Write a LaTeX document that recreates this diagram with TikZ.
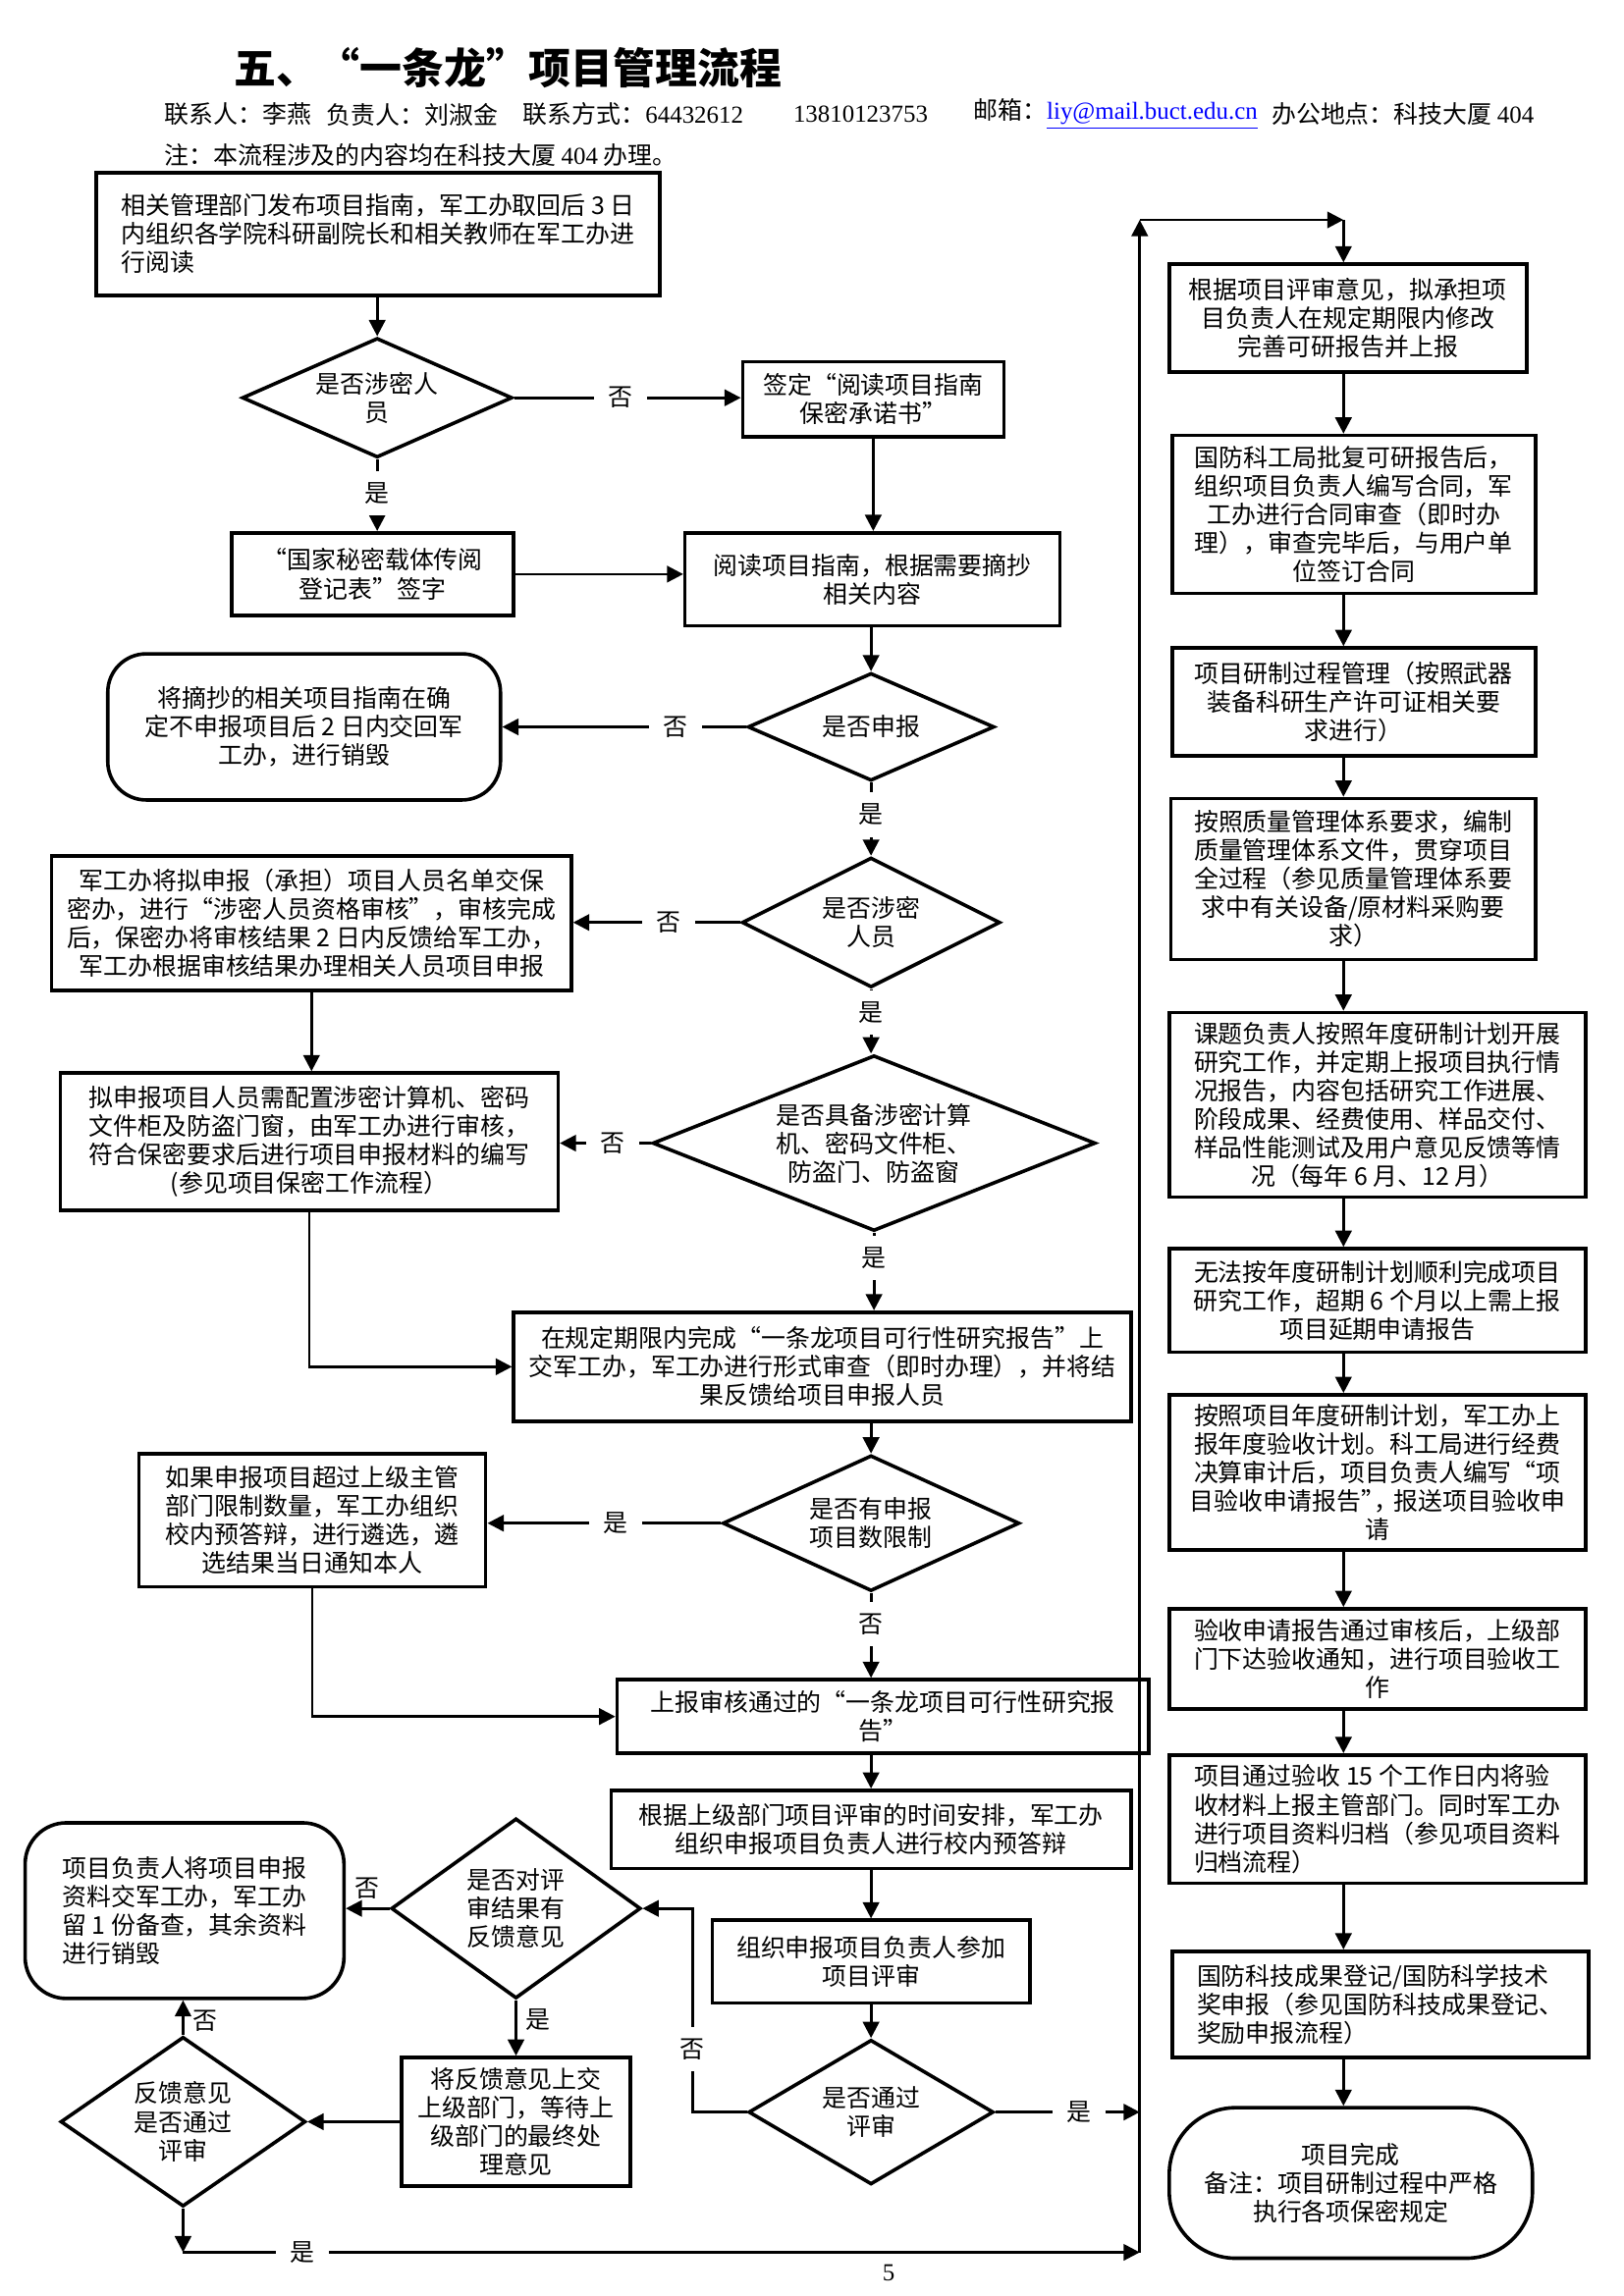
\documentclass[tikz,border=0pt]{standalone}
\usepackage{fontspec}
\setmainfont{Noto Sans CJK SC}
\newfontfamily\latfont{Liberation Serif}
\usetikzlibrary{shapes.geometric,arrows.meta}
\newcommand\pxu{0.19091mm}
\newcommand\lat[1]{{\latfont #1}}
\begin{document}
\begin{tikzpicture}[x=\pxu,y=-\pxu,
  font=\fontsize{9pt}{10.5pt}\selectfont,
  >={Triangle[length=2.1mm,width=2.1mm]},
  bx/.style 2 args={draw,line width=1.3pt,rectangle,minimum width=#1*\pxu,minimum height=#2*\pxu,inner sep=0pt,align=center},
  rbx/.style n args={3}{bx={#1}{#2},rounded corners=#3*\pxu},
  dia/.style n args={3}{diamond,draw,line width=1.3pt,minimum width=#1*\pxu,minimum height=#2*\pxu,aspect=#3,inner sep=0pt,align=center},
  lab/.style={fill=white,inner sep=0pt,minimum width=36*\pxu,minimum height=30*\pxu},
  arr/.style={->,line width=1pt},
  hd/.style={anchor=west,inner sep=0pt}]
\useasboundingbox (0,0) rectangle (1100,1555.6);

% header
\node[hd,font=\fontsize{15.5pt}{18pt}\selectfont\bfseries] (T) at (158,46) {五、“一条龙”项目管理流程};
\node[hd] (h1) at (111,77.5) {联系人：李燕};
\node[hd] (h2) at (221,77.5) {负责人：刘淑金};
\node[hd] (h3) at (354,77.5) {联系方式：\lat{64432612}};
\node[hd] (h4) at (537,77.5) {\lat{13810123753}};
\node[hd] (h5) at (659,77.5) {邮箱：{\latfont\color{blue}\underline{liy@mail.buct.edu.cn}}};
\node[hd] (h6) at (861,77.5) {办公地点：科技大厦 \lat{404}};
\node[hd] (h7) at (111,105) {注：本流程涉及的内容均在科技大厦 \lat{404} 办理。};
\node[inner sep=0pt] (pg) at (602,1540) {\lat{5}};

% left / middle column
\node[bx={382}{83},align=left] (A) at (256,158.5) {相关管理部门发布项目指南，军工办取回后 3 日\\内组织各学院科研副院长和相关教师在军工办进\\行阅读};
\node[dia={183}{81}{2.25}] (D1) at (255.5,269.5) {是否涉密人\\员};
\node[bx={177}{51}] (B) at (591.5,270.5) {签定“阅读项目指南\\保密承诺书”};
\node[bx={191}{56}] (C) at (252.5,389) {“国家秘密载体传阅\\登记表”签字};
\node[bx={254}{63}] (E) at (591,392.5) {阅读项目指南，根据需要摘抄\\相关内容};
\node[dia={167}{73}{2.3}] (D2) at (590,492.5) {是否申报};
\node[rbx={266}{99}{26}] (F) at (206,492.5) {将摘抄的相关项目指南在确\\定不申报项目后 2 日内交回军\\工办，进行销毁};
\node[dia={175}{88}{2.0}] (D3) at (590,625) {是否涉密\\人员};
\node[bx={352}{91}] (G) at (211,625.5) {军工办将拟申报（承担）项目人员名单交保\\密办，进行“涉密人员资格审核”，审核完成\\后，保密办将审核结果 2 日内反馈给军工办，\\军工办根据审核结果办理相关人员项目申报};
\node[dia={300}{119}{2.5}] (D4) at (592,774.5) {是否具备涉密计算\\机、密码文件柜、\\防盗门、防盗窗};
\node[bx={337}{93}] (H) at (209.5,773.5) {拟申报项目人员需配置涉密计算机、密码\\文件柜及防盗门窗，由军工办进行审核，\\符合保密要求后进行项目申报材料的编写\\(参见项目保密工作流程）};
\node[bx={418}{74}] (I) at (557,926) {在规定期限内完成“一条龙项目可行性研究报告”上\\交军工办，军工办进行形式审查（即时办理），并将结\\果反馈给项目申报人员};
\node[dia={201}{92}{2.2}] (D5) at (590,1032) {是否有申报\\项目数限制};
\node[bx={235}{90}] (J) at (211.5,1030) {如果申报项目超过上级主管\\部门限制数量，军工办组织\\校内预答辩，进行遴选，遴\\选结果当日通知本人};
\node[bx={360}{50}] (K) at (598,1163) {上报审核通过的“一条龙项目可行性研究报\\告”};
\node[bx={352}{53}] (L) at (590,1239.5) {根据上级部门项目评审的时间安排，军工办\\组织申报项目负责人进行校内预答辩};
\node[bx={215}{56}] (M) at (590,1329) {组织申报项目负责人参加\\项目评审};
\node[dia={166}{98}{1.7}] (D6) at (590,1431) {是否通过\\评审};
\node[dia={169}{122}{1.4}] (D7) at (349.5,1293) {是否对评\\审结果有\\反馈意见};
\node[rbx={216}{119}{28},align=left] (N) at (125,1294.5) {项目负责人将项目申报\\资料交军工办，军工办\\留 1 份备查，其余资料\\进行销毁};
\node[bx={155}{87}] (O) at (349.5,1437.5) {将反馈意见上交\\上级部门，等待上\\级部门的最终处\\理意见};
\node[dia={166}{115}{1.45}] (D8) at (124,1437.5) {反馈意见\\是否通过\\评审};

% right column
\node[bx={242}{73}] (R1) at (913,215.5) {根据项目评审意见，拟承担项\\目负责人在规定期限内修改\\完善可研报告并上报};
\node[bx={246}{107}] (R2) at (917,348.5) {国防科工局批复可研报告后，\\组织项目负责人编写合同，军\\工办进行合同审查（即时办\\理），审查完毕后，与用户单\\位签订合同};
\node[bx={246}{73}] (R3) at (917,475.5) {项目研制过程管理（按照武器\\装备科研生产许可证相关要\\求进行）};
\node[bx={247}{109}] (R4) at (916.5,595.5) {按照质量管理体系要求，编制\\质量管理体系文件，贯穿项目\\全过程（参见质量管理体系要\\求中有关设备/原材料采购要\\求）};
\node[bx={282}{125}] (R5) at (933,748.5) {课题负责人按照年度研制计划开展\\研究工作，并定期上报项目执行情\\况报告，内容包括研究工作进展、\\阶段成果、经费使用、样品交付、\\样品性能测试及用户意见反馈等情\\况（每年 6 月、12 月）};
\node[bx={282}{70}] (R6) at (933,881) {无法按年度研制计划顺利完成项目\\研究工作，超期 6 个月以上需上报\\项目延期申请报告};
\node[bx={282}{105}] (R7) at (933,997.5) {按照项目年度研制计划，军工办上\\报年度验收计划。科工局进行经费\\决算审计后，项目负责人编写“项\\目验收申请报告”\kern-.45em，\kern-.2em报送项目验收申\\请};
\node[bx={282}{68}] (R8) at (933,1124) {验收申请报告通过审核后，上级部\\门下达验收通知，进行项目验收工\\作};
\node[bx={282}{87},align=left] (R9) at (933,1232.5) {项目通过验收 15 个工作日内将验\\收材料上报主管部门。同时军工办\\进行项目资料归档（参见项目资料\\归档流程）};
\node[bx={282}{72},align=left] (R10) at (935,1358) {国防科技成果登记/国防科学技术\\奖申报（参见国防科技成果登记、\\奖励申报流程）};
\node[rbx={246}{102}{45}] (R11) at (915,1479) {项目完成\\备注：项目研制过程中严格\\执行各项保密规定};

% helper coordinates
\coordinate (sb) at (772,1526);
\coordinate (st) at (772,149);
\coordinate (tr) at (910,149);
\coordinate (b1) at (469,1400);
\coordinate (bl) at (124,1526);

% connectors
\draw[arr] (A.south -| D1.north) -- (D1.north);
\draw[arr] (D1.east) -- node[lab,pos=.47]{否} (D1.east -| B.west);
\draw[arr] (D1.south) -- node[lab,pos=.47]{是} (D1.south |- C.north);
\draw[arr] (B.south) -- (B.south |- E.north);
\draw[arr] (C.east) -- (C.east -| E.west);
\draw[arr] (E.south -| D2.north) -- (D2.north);
\draw[arr] (D2.west) -- node[lab,pos=.29]{否} (D2.west -| F.east);
\draw[arr] (D2.south) -- node[lab,pos=.44]{是} (D2.south |- D3.north);
\draw[arr] (D3.west) -- node[lab,pos=.43]{否} (D3.west -| G.east);
\draw[arr] (D3.south) -- node[lab,pos=.36]{是} (D3.south |- D4.north);
\draw[arr] (D4.west) -- node[lab,pos=.42]{否} (D4.west -| H.east);
\draw[arr] (G.south) -- (G.south |- H.north);
\draw[arr] (D4.south) -- node[lab,pos=.33]{是} (D4.south |- I.north);
\draw[arr] (H.south) |- (I.west);
\draw[arr] (D5.north |- I.south) -- (D5.north);
\draw[arr] (D5.west) -- node[lab,pos=.45]{是} (D5.west -| J.east);
\draw[arr] (D5.south) -- node[lab,pos=.37]{否} (D5.south |- K.north);
\draw[arr] (J.south) |- (K.west);
\draw[arr] (L.north |- K.south) -- (L.north);
\draw[arr] (L.south) -- (L.south |- M.north);
\draw[arr] (M.south) -- (M.south |- D6.north);
\draw[arr] (D6.east) -- node[lab,pos=.58]{是} (D6.east -| sb);
\draw[arr] (D6.west) -- (D6.west -| b1) -- node[lab,pos=.31]{否} (D7.east -| b1) -- (D7.east);
\draw[arr] (D7.west) -- node[above,pos=.5,inner sep=3pt]{否} (D7.west -| N.east);
\draw[arr] (D7.south) -- node[right,pos=.35,inner sep=3pt]{是} (D7.south |- O.north);
\draw[arr] (O.west) -- (O.west -| D8.east);
\draw[arr] (D8.north) -- node[right,pos=.4,inner sep=3pt]{否} (D8.north |- N.south);
\draw[arr] (D8.south) -- (bl);
\draw[arr] (bl) -- node[lab,pos=.125]{是} (sb);
\draw[arr] (sb) -- (st);
\draw[arr] (st) -- (tr);
\draw[arr] (tr) -- (tr |- R1.north);
\foreach \a/\b in {R1/R2,R2/R3,R3/R4,R4/R5,R5/R6,R6/R7,R7/R8,R8/R9,R9/R10,R10/R11}
  \draw[arr] (\a.south -| tr) -- (\b.north -| tr);
\end{tikzpicture}
\end{document}
